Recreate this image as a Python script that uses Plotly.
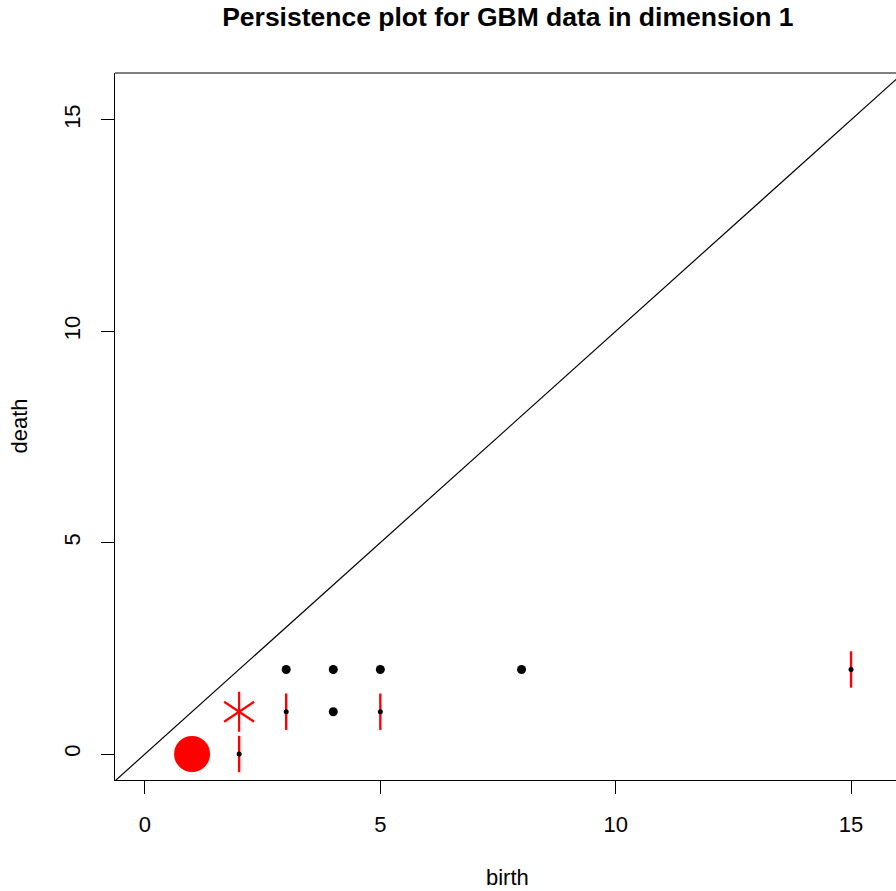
import plotly.graph_objects as go

# Data
dot_birth = [3, 4, 5, 8, 4]
dot_death = [2, 2, 2, 2, 1]
bar_birth = [2, 3, 5, 15]
bar_death = [0, 1, 1, 2]
star_birth = [2]
star_death = [1]
big_birth = [1]
big_death = [0]
diag = [-1, 17]
ticks = [0, 5, 10, 15]

FONT = "Liberation Sans, Arial, Helvetica, sans-serif"

fig = go.Figure()
fig.add_trace(go.Scatter(x=diag, y=diag, mode="lines",
                         line=dict(color="black", width=1.2), hoverinfo="skip"))
fig.add_trace(go.Scatter(x=big_birth, y=big_death, mode="markers",
                         marker=dict(symbol="circle", size=36, color="red",
                                     line=dict(width=0))))
for sym in ["y-up", "y-down"]:
    fig.add_trace(go.Scatter(x=star_birth, y=star_death, mode="markers",
                             marker=dict(symbol=sym, size=25, color="red",
                                         line=dict(color="red", width=2.2))))
fig.add_trace(go.Scatter(x=bar_birth, y=bar_death, mode="markers",
                         marker=dict(symbol="line-ns", size=26, color="red",
                                     line=dict(color="red", width=2.4))))
fig.add_trace(go.Scatter(x=bar_birth, y=bar_death, mode="markers",
                         marker=dict(symbol="circle", size=5, color="black",
                                     line=dict(width=0))))
fig.add_trace(go.Scatter(x=dot_birth, y=dot_death, mode="markers",
                         marker=dict(symbol="circle", size=9, color="black",
                                     line=dict(width=0))))

axis_common = dict(showgrid=False, zeroline=False, showline=True,
                   linecolor="black", linewidth=1, ticks="outside",
                   ticklen=13, tickwidth=1, tickcolor="black",
                   tickvals=ticks, tickfont=dict(family=FONT, size=22, color="black"))

fig.update_layout(
    width=896, height=891,
    margin=dict(l=115, r=0, t=73, b=111),
    paper_bgcolor="white", plot_bgcolor="white",
    showlegend=False,
    font=dict(family=FONT, color="black"),
    title=dict(text="<b>Persistence plot for GBM data in dimension 1</b>",
               x=0.503, xref="paper", xanchor="center",
               y=1 - 17 / 891, yref="container", yanchor="middle",
               font=dict(family=FONT, size=26.5, color="black")),
    xaxis=dict(range=[-0.637, 15.955], ticklabelstandoff=12, **axis_common),
    yaxis=dict(range=[-0.615, 16.11], tickangle=-90, ticklabelstandoff=12,
               **axis_common),
    shapes=[dict(type="line", xref="paper", yref="paper", x0=0, x1=1, y0=1, y1=1,
                 line=dict(color="black", width=1))],
    annotations=[
        dict(text="birth", xref="paper", yref="paper", x=0.503, y=-97 / 707,
             xanchor="center", yanchor="middle", showarrow=False,
             font=dict(family=FONT, size=22, color="black")),
        dict(text="death", xref="paper", yref="paper", x=-96 / 781, y=0.5,
             xanchor="center", yanchor="middle", showarrow=False, textangle=-90,
             font=dict(family=FONT, size=22, color="black")),
    ],
)

fig.write_html("out.html", config={"displayModeBar": False},
               post_script="document.body.style.margin='0';document.body.style.overflow='hidden';")
